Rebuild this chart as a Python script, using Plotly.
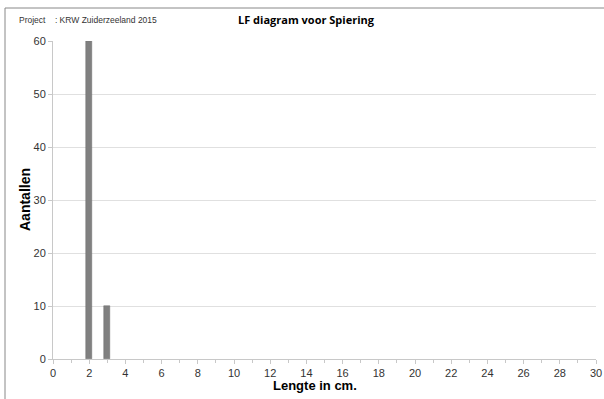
import plotly.graph_objects as go

lengths = [2, 3]
counts = [60, 10]
x_ticks = list(range(0, 31, 2))

W, H = 604, 399
L, R, T, B = 53, 8, 41, 40
pw, ph = W - L - R, H - T - B

def px(x):
    return (x - L) / pw

def py(y):
    return (H - B - y) / ph

fig = go.Figure()
fig.add_trace(go.Bar(x=lengths, y=counts, width=0.33,
                     marker=dict(color="#808080", line=dict(color="#6a6a6a", width=0.5))))

fig.update_layout(
    width=W, height=H,
    margin=dict(l=L, r=R, t=T, b=B, autoexpand=False),
    paper_bgcolor="white", plot_bgcolor="white",
    showlegend=False,
    font=dict(family="Liberation Sans, Arial, sans-serif", size=11, color="#333333"),
    xaxis=dict(range=[0, 30], tickvals=x_ticks, ticks="outside", ticklen=4,
               tickcolor="#c8c8c8", showline=True, linecolor="#c8c8c8", linewidth=1,
               showgrid=False, zeroline=False, automargin=False,
               minor=dict(dtick=1, ticks="outside", ticklen=3, tickcolor="#c8c8c8")),
    yaxis=dict(range=[0, 60], dtick=10, ticks="outside", ticklen=4,
               tickcolor="#c8c8c8", showline=True, linecolor="#c8c8c8", linewidth=1,
               showgrid=True, gridcolor="#e0e0e0", zeroline=False, automargin=False),
    bargap=0,
)

fig.add_annotation(x=px(17), y=py(20), xref="paper", yref="paper", xanchor="left", yanchor="middle",
                   text="Project\u00a0\u00a0\u00a0\u00a0: KRW Zuiderzeeland 2015", showarrow=False,
                   font=dict(size=8.5, color="#333333"))
fig.add_annotation(x=px(306), y=py(20), xref="paper", yref="paper", xanchor="center", yanchor="middle",
                   text="<b>LF diagram voor Spiering</b>", showarrow=False,
                   font=dict(family="Open Sans, sans-serif", size=11, color="black"))
fig.add_annotation(x=px(315), y=py(385), xref="paper", yref="paper", xanchor="center", yanchor="middle",
                   text="<b>Lengte in cm.</b>", showarrow=False,
                   font=dict(size=13, color="black"))
fig.add_annotation(x=px(25), y=py(200), xref="paper", yref="paper", xanchor="center", yanchor="middle",
                   text="<b>Aantallen</b>", showarrow=False, textangle=-90,
                   font=dict(size=14, color="black"))

fig.add_shape(type="line", xref="paper", yref="paper", x0=px(5), x1=px(604), y0=py(8), y1=py(8),
              line=dict(color="#888888", width=1))
fig.add_shape(type="line", xref="paper", yref="paper", x0=px(5), x1=px(5), y0=py(8), y1=py(399),
              line=dict(color="#888888", width=1))

fig.write_html("out.html", config={"displayModeBar": False},
               post_script="document.body.style.margin='0';document.body.style.overflow='hidden';")
